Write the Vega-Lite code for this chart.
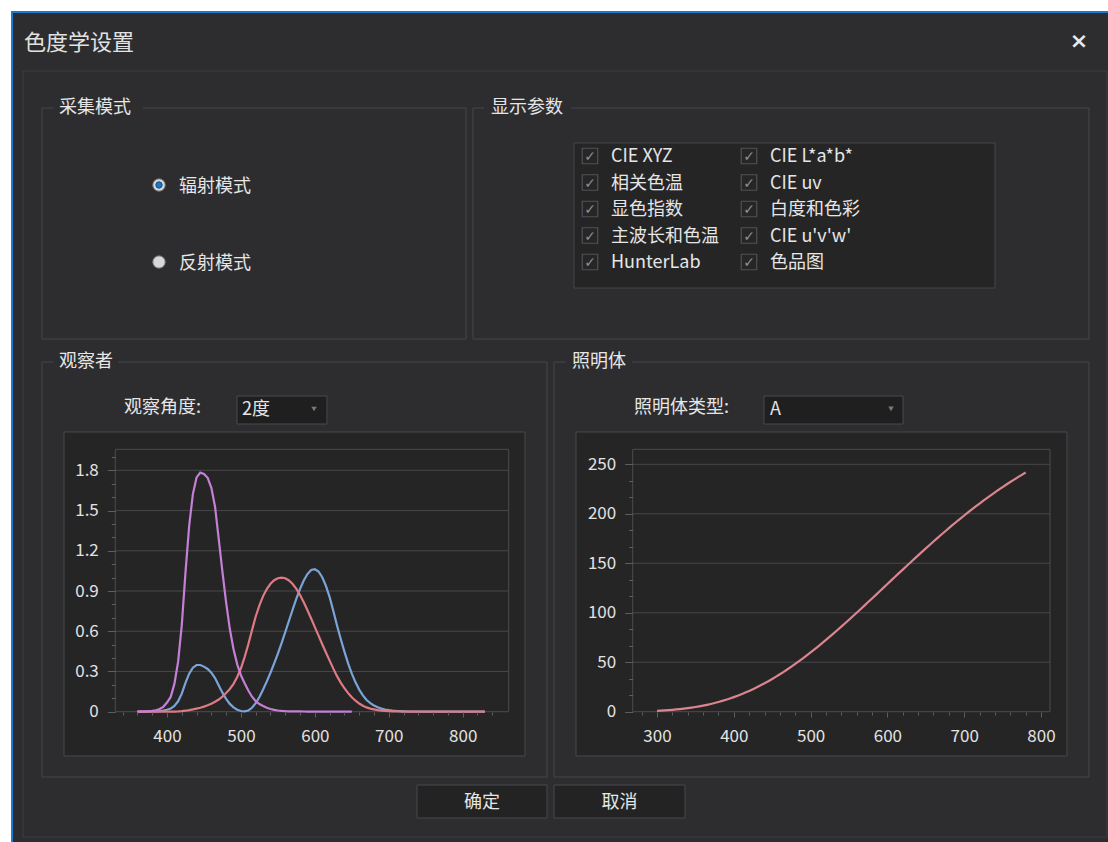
{
  "$schema": "https://vega.github.io/schema/vega-lite/v6.json",
  "background": "#ffffff",
  "padding": {"left": 10, "top": 10, "right": 0, "bottom": 0},
  "config": {
    "font": "Noto Sans CJK SC",
    "view": {"stroke": null},
    "scale": {"zero": false},
    "axis": {"labelFont": "Noto Sans CJK SC", "labelFontSize": 17, "labelColor": "#e2e2e2", "tickColor": "#5e5e5e", "domain": false, "grid": false, "title": null, "labelOverlap": false, "labelBound": false, "labelFlush": false},
    "text": {"font": "Noto Sans CJK SC", "fontSize": 18, "color": "#e6e6e6"}
  },
  "spacing": 8,
  "bounds": "flush",
  "vconcat": [
    {
      "width": 1047, "height": 89,
      "data": {"values": [{"title": "色度学设置", "close": "×"}]},
      "layer": [
        {"mark": {"type": "rect", "fill": "#2d2d30"},
         "encoding": {
           "x": {"datum": -31, "type": "quantitative", "scale": {"domain": [0, 1047], "nice": false}, "axis": null},
           "x2": {"datum": 1067},
           "y": {"datum": 0, "type": "quantitative", "scale": {"domain": [0, 89], "reverse": true, "nice": false}, "axis": null},
           "y2": {"datum": 832}}},
        {"mark": {"type": "rule", "color": "#1a7bd1", "strokeWidth": 2},
         "encoding": {"x": {"datum": -31, "type": "quantitative", "axis": null}, "x2": {"datum": 1067}, "y": {"datum": 1, "type": "quantitative", "axis": null}}},
        {"mark": {"type": "rule", "color": "#1a7bd1", "strokeWidth": 2},
         "encoding": {"x": {"datum": -30, "type": "quantitative", "axis": null}, "y": {"datum": 0, "type": "quantitative", "axis": null}, "y2": {"datum": 832}}},
        {"mark": {"type": "rect", "filled": false, "stroke": "#3e3e43", "strokeWidth": 1},
         "encoding": {"x": {"datum": -19, "type": "quantitative", "axis": null}, "x2": {"datum": 1065}, "y": {"datum": 60, "type": "quantitative", "axis": null}, "y2": {"datum": 826}}},
        {"mark": {"type": "text", "align": "left", "baseline": "middle", "fontSize": 22, "color": "#e2e2e2"},
         "encoding": {"text": {"field": "title"}, "x": {"datum": -18, "type": "quantitative", "axis": null}, "y": {"datum": 32, "type": "quantitative", "axis": null}}},
        {"mark": {"type": "text", "align": "center", "baseline": "middle", "fontSize": 22, "fontWeight": "bold", "font": "DejaVu Sans", "color": "#e8e8e8"},
         "encoding": {"text": {"field": "close"}, "x": {"datum": 1037, "type": "quantitative", "axis": null}, "y": {"datum": 30, "type": "quantitative", "axis": null}}}
      ]
    },
    {
      "width": 1047, "height": 231,
      "resolve": {"scale": {"x": "independent", "y": "independent"}},
      "layer": [
        {"data": {"values": [{"a": "采集模式", "b": "显示参数"}]},
         "layer": [
           {"mark": {"type": "rect", "filled": false, "stroke": "#46464b", "strokeWidth": 1},
            "encoding": {"x": {"datum": 0, "type": "quantitative", "scale": {"domain": [0, 1047], "nice": false}, "axis": null}, "x2": {"datum": 424},
              "y": {"datum": 0, "type": "quantitative", "scale": {"domain": [0, 231], "reverse": true, "nice": false}, "axis": null}, "y2": {"datum": 231}}},
           {"mark": {"type": "rect", "filled": false, "stroke": "#46464b", "strokeWidth": 1},
            "encoding": {"x": {"datum": 431, "type": "quantitative", "axis": null}, "x2": {"datum": 1047},
              "y": {"datum": 0, "type": "quantitative", "axis": null}, "y2": {"datum": 231}}},
           {"mark": {"type": "rect", "fill": "#2d2d30"},
            "encoding": {"x": {"datum": 12, "type": "quantitative", "axis": null}, "x2": {"datum": 101},
              "y": {"datum": -8, "type": "quantitative", "axis": null}, "y2": {"datum": 8}}},
           {"mark": {"type": "rect", "fill": "#2d2d30"},
            "encoding": {"x": {"datum": 442, "type": "quantitative", "axis": null}, "x2": {"datum": 529},
              "y": {"datum": -8, "type": "quantitative", "axis": null}, "y2": {"datum": 8}}},
           {"mark": {"type": "text", "align": "left", "baseline": "middle"},
            "encoding": {"text": {"field": "a"}, "x": {"datum": 17, "type": "quantitative", "axis": null}, "y": {"datum": 0, "type": "quantitative", "axis": null}}},
           {"mark": {"type": "text", "align": "left", "baseline": "middle"},
            "encoding": {"text": {"field": "b"}, "x": {"datum": 449, "type": "quantitative", "axis": null}, "y": {"datum": 0, "type": "quantitative", "axis": null}}},
           {"mark": {"type": "rect", "fill": "#252526", "stroke": "#45454a", "strokeWidth": 1},
            "encoding": {"x": {"datum": 532, "type": "quantitative", "axis": null}, "x2": {"datum": 953},
              "y": {"datum": 35, "type": "quantitative", "axis": null}, "y2": {"datum": 180}}}
         ]},
        {"data": {"values": [{"label": "辐射模式", "selected": true}, {"label": "反射模式", "selected": false}]},
         "encoding": {
           "x": {"datum": 117, "type": "quantitative", "scale": {"domain": [0, 1047], "nice": false}, "axis": null},
           "y": {"field": "label", "type": "nominal", "scale": {"domain": ["辐射模式", "反射模式"], "padding": 1}, "axis": null}
         },
         "layer": [
           {"mark": {"type": "point", "shape": "circle", "filled": true, "size": 150, "fill": "#d8d8d8", "stroke": "#8c8c8c", "strokeWidth": 1, "opacity": 1}},
           {"transform": [{"filter": "datum.selected"}],
            "mark": {"type": "point", "shape": "circle", "filled": true, "size": 40, "fill": "#1c78c9", "stroke": "#0d4a80", "strokeWidth": 1, "opacity": 1}},
           {"mark": {"type": "text", "align": "left", "baseline": "middle", "dx": 20, "dy": 2},
            "encoding": {"text": {"field": "label"}}}
         ]},
        {"data": {"values": [
           {"col": 1, "row": 1, "label": "CIE XYZ"},
           {"col": 1, "row": 2, "label": "相关色温"},
           {"col": 1, "row": 3, "label": "显色指数"},
           {"col": 1, "row": 4, "label": "主波长和色温"},
           {"col": 1, "row": 5, "label": "HunterLab"},
           {"col": 2, "row": 1, "label": "CIE L*a*b*"},
           {"col": 2, "row": 2, "label": "CIE uv"},
           {"col": 2, "row": 3, "label": "白度和色彩"},
           {"col": 2, "row": 4, "label": "CIE u'v'w'"},
           {"col": 2, "row": 5, "label": "色品图"}
         ]},
         "encoding": {
           "x": {"field": "col", "type": "quantitative", "scale": {"domain": [-2.4465, 4.1384], "nice": false}, "axis": null},
           "y": {"field": "row", "type": "quantitative", "scale": {"domain": [-0.81132, 7.90566], "reverse": true, "nice": false}, "axis": null}
         },
         "layer": [
           {"mark": {"type": "point", "shape": "square", "filled": true, "size": 240, "fill": "#262627", "stroke": "#515155", "strokeWidth": 1.2, "opacity": 1}},
           {"mark": {"type": "text", "text": "✓", "font": "DejaVu Sans", "fontSize": 14, "color": "#8e8e8e", "align": "center", "baseline": "middle", "dy": 1}},
           {"mark": {"type": "text", "align": "left", "baseline": "middle", "dx": 21, "dy": 1},
            "encoding": {"text": {"field": "label"}}}
         ]}
      ]
    },
    {"width": 1047, "height": 7, "data": {"values": []}, "mark": "text"},
    {
      "width": 1047, "height": 415,
      "resolve": {"scale": {"x": "independent", "y": "independent"}, "axis": {"x": "independent", "y": "independent"}},
      "layer": [
        {
          "resolve": {"axis": {"x": "independent", "y": "independent"}},
          "layer": [
            {"data": {"values": [{"t": "观察者", "lab": "观察角度:", "val": "2度"}]},
             "layer": [
               {"mark": {"type": "rect", "filled": false, "stroke": "#46464b", "strokeWidth": 1},
                "encoding": {
                  "x": {"datum": 230.91, "type": "quantitative", "scale": {"domain": [230.91, 1647.21], "nice": false}, "axis": null}, "x2": {"datum": 914.03},
                  "y": {"datum": -0.487, "type": "quantitative", "scale": {"domain": [-0.487, 2.6078], "nice": false}, "axis": null}, "y2": {"datum": 2.6078}}},
               {"mark": {"type": "rect", "fill": "#252526", "stroke": "#48484c", "strokeWidth": 1},
                "encoding": {"x": {"datum": 260.67, "type": "quantitative", "axis": null}, "x2": {"datum": 884.28},
                  "y": {"datum": -0.3303, "type": "quantitative", "axis": null}, "y2": {"datum": 2.0858}}},
               {"mark": {"type": "rect", "fill": "#2d2d30"},
                "encoding": {"x": {"datum": 247.1, "type": "quantitative", "axis": null}, "x2": {"datum": 333.7},
                  "y": {"datum": 2.548, "type": "quantitative", "axis": null}, "y2": {"datum": 2.668}}},
               {"mark": {"type": "text", "align": "left", "baseline": "middle"},
                "encoding": {"text": {"field": "t"}, "x": {"datum": 253.9, "type": "quantitative", "axis": null}, "y": {"datum": 2.6078, "type": "quantitative", "axis": null}}},
               {"mark": {"type": "text", "align": "left", "baseline": "middle"},
                "encoding": {"text": {"field": "lab"}, "x": {"datum": 341.8, "type": "quantitative", "axis": null}, "y": {"datum": 2.2647, "type": "quantitative", "axis": null}}},
               {"mark": {"type": "rect", "fill": "#1f1f20", "stroke": "#4a4a4e", "strokeWidth": 1},
                "encoding": {"x": {"datum": 494.7, "type": "quantitative", "axis": null}, "x2": {"datum": 616.4},
                  "y": {"datum": 2.1454, "type": "quantitative", "axis": null}, "y2": {"datum": 2.3542}}},
               {"mark": {"type": "text", "align": "left", "baseline": "middle"},
                "encoding": {"text": {"field": "val"}, "x": {"datum": 501.5, "type": "quantitative", "axis": null}, "y": {"datum": 2.2498, "type": "quantitative", "axis": null}}},
               {"mark": {"type": "point", "shape": "triangle-down", "filled": true, "size": 30, "color": "#7a7a7a", "opacity": 1},
                "encoding": {"x": {"datum": 598.9, "type": "quantitative", "axis": null}, "y": {"datum": 2.2573, "type": "quantitative", "axis": null}}},
               {"mark": {"type": "rect", "filled": false, "stroke": "#4c4c50", "strokeWidth": 1},
                "encoding": {"x": {"datum": 330.1, "type": "quantitative", "axis": null}, "x2": {"datum": 862.2},
                  "y": {"datum": 0, "type": "quantitative", "axis": null}, "y2": {"datum": 1.9567}}}
             ]},
            {"data": {"values": [{"t": 0.3}, {"t": 0.6}, {"t": 0.9}, {"t": 1.2}, {"t": 1.5}, {"t": 1.8}]},
             "mark": {"type": "rule", "color": "#48484b", "strokeWidth": 1},
             "encoding": {"x": {"datum": 330.1, "type": "quantitative", "axis": null}, "x2": {"datum": 862.2},
               "y": {"field": "t", "type": "quantitative", "axis": null}}},
            {"data": {"values": [
              {"wl": 360, "xbar": 0.00013, "ybar": 0.0000039, "zbar": 0.000606},
              {"wl": 365, "xbar": 0.000232, "ybar": 0.000007, "zbar": 0.001086},
              {"wl": 370, "xbar": 0.000415, "ybar": 0.000012, "zbar": 0.001946},
              {"wl": 375, "xbar": 0.000742, "ybar": 0.000022, "zbar": 0.003486},
              {"wl": 380, "xbar": 0.001368, "ybar": 0.000039, "zbar": 0.00645},
              {"wl": 385, "xbar": 0.002236, "ybar": 0.000064, "zbar": 0.01055},
              {"wl": 390, "xbar": 0.004243, "ybar": 0.00012, "zbar": 0.02005},
              {"wl": 395, "xbar": 0.00765, "ybar": 0.000217, "zbar": 0.03621},
              {"wl": 400, "xbar": 0.01431, "ybar": 0.000396, "zbar": 0.06785},
              {"wl": 405, "xbar": 0.02319, "ybar": 0.00064, "zbar": 0.1102},
              {"wl": 410, "xbar": 0.04351, "ybar": 0.00121, "zbar": 0.2074},
              {"wl": 415, "xbar": 0.07763, "ybar": 0.00218, "zbar": 0.3713},
              {"wl": 420, "xbar": 0.13438, "ybar": 0.004, "zbar": 0.6456},
              {"wl": 425, "xbar": 0.21477, "ybar": 0.0073, "zbar": 1.03905},
              {"wl": 430, "xbar": 0.2839, "ybar": 0.0116, "zbar": 1.3856},
              {"wl": 435, "xbar": 0.3285, "ybar": 0.01684, "zbar": 1.62296},
              {"wl": 440, "xbar": 0.34828, "ybar": 0.023, "zbar": 1.74706},
              {"wl": 445, "xbar": 0.34806, "ybar": 0.0298, "zbar": 1.7826},
              {"wl": 450, "xbar": 0.3362, "ybar": 0.038, "zbar": 1.77211},
              {"wl": 455, "xbar": 0.3187, "ybar": 0.048, "zbar": 1.7441},
              {"wl": 460, "xbar": 0.2908, "ybar": 0.06, "zbar": 1.6692},
              {"wl": 465, "xbar": 0.2511, "ybar": 0.0739, "zbar": 1.5281},
              {"wl": 470, "xbar": 0.19536, "ybar": 0.09098, "zbar": 1.28764},
              {"wl": 475, "xbar": 0.1421, "ybar": 0.1126, "zbar": 1.0419},
              {"wl": 480, "xbar": 0.09564, "ybar": 0.13902, "zbar": 0.81295},
              {"wl": 485, "xbar": 0.05795, "ybar": 0.1693, "zbar": 0.6162},
              {"wl": 490, "xbar": 0.03201, "ybar": 0.20802, "zbar": 0.46518},
              {"wl": 495, "xbar": 0.0147, "ybar": 0.2586, "zbar": 0.3533},
              {"wl": 500, "xbar": 0.0049, "ybar": 0.323, "zbar": 0.272},
              {"wl": 505, "xbar": 0.0024, "ybar": 0.4073, "zbar": 0.2123},
              {"wl": 510, "xbar": 0.0093, "ybar": 0.503, "zbar": 0.1582},
              {"wl": 515, "xbar": 0.0291, "ybar": 0.6082, "zbar": 0.1117},
              {"wl": 520, "xbar": 0.06327, "ybar": 0.71, "zbar": 0.07825},
              {"wl": 525, "xbar": 0.1096, "ybar": 0.7932, "zbar": 0.05725},
              {"wl": 530, "xbar": 0.1655, "ybar": 0.862, "zbar": 0.04216},
              {"wl": 535, "xbar": 0.22575, "ybar": 0.91485, "zbar": 0.02984},
              {"wl": 540, "xbar": 0.2904, "ybar": 0.954, "zbar": 0.0203},
              {"wl": 545, "xbar": 0.3597, "ybar": 0.9803, "zbar": 0.0134},
              {"wl": 550, "xbar": 0.43345, "ybar": 0.99495, "zbar": 0.00875},
              {"wl": 555, "xbar": 0.51205, "ybar": 1.0, "zbar": 0.00575},
              {"wl": 560, "xbar": 0.5945, "ybar": 0.995, "zbar": 0.0039},
              {"wl": 565, "xbar": 0.6784, "ybar": 0.9786, "zbar": 0.00275},
              {"wl": 570, "xbar": 0.7621, "ybar": 0.952, "zbar": 0.0021},
              {"wl": 575, "xbar": 0.8425, "ybar": 0.9154, "zbar": 0.0018},
              {"wl": 580, "xbar": 0.9163, "ybar": 0.87, "zbar": 0.00165},
              {"wl": 585, "xbar": 0.9786, "ybar": 0.8163, "zbar": 0.0014},
              {"wl": 590, "xbar": 1.0263, "ybar": 0.757, "zbar": 0.0011},
              {"wl": 595, "xbar": 1.0567, "ybar": 0.6949, "zbar": 0.001},
              {"wl": 600, "xbar": 1.0622, "ybar": 0.631, "zbar": 0.0008},
              {"wl": 605, "xbar": 1.0456, "ybar": 0.5668, "zbar": 0.0006},
              {"wl": 610, "xbar": 1.0026, "ybar": 0.503, "zbar": 0.00034},
              {"wl": 615, "xbar": 0.9384, "ybar": 0.4412, "zbar": 0.00024},
              {"wl": 620, "xbar": 0.85445, "ybar": 0.381, "zbar": 0.00019},
              {"wl": 625, "xbar": 0.7514, "ybar": 0.321, "zbar": 0.0001},
              {"wl": 630, "xbar": 0.6424, "ybar": 0.265, "zbar": 0.00005},
              {"wl": 635, "xbar": 0.5419, "ybar": 0.217, "zbar": 0.00003},
              {"wl": 640, "xbar": 0.4479, "ybar": 0.175, "zbar": 0.00002},
              {"wl": 645, "xbar": 0.3608, "ybar": 0.1382, "zbar": 0.00001},
              {"wl": 650, "xbar": 0.2835, "ybar": 0.107, "zbar": 0},
              {"wl": 655, "xbar": 0.2187, "ybar": 0.0816},
              {"wl": 660, "xbar": 0.1649, "ybar": 0.061},
              {"wl": 665, "xbar": 0.1212, "ybar": 0.04458},
              {"wl": 670, "xbar": 0.0874, "ybar": 0.032},
              {"wl": 675, "xbar": 0.0636, "ybar": 0.0232},
              {"wl": 680, "xbar": 0.04677, "ybar": 0.017},
              {"wl": 685, "xbar": 0.0329, "ybar": 0.01192},
              {"wl": 690, "xbar": 0.0227, "ybar": 0.00821},
              {"wl": 695, "xbar": 0.01584, "ybar": 0.005723},
              {"wl": 700, "xbar": 0.011359, "ybar": 0.004102},
              {"wl": 705, "xbar": 0.008111, "ybar": 0.002929},
              {"wl": 710, "xbar": 0.00579, "ybar": 0.002091},
              {"wl": 715, "xbar": 0.004109, "ybar": 0.001484},
              {"wl": 720, "xbar": 0.002899, "ybar": 0.001047},
              {"wl": 730, "xbar": 0.00144, "ybar": 0.00052},
              {"wl": 740, "xbar": 0.00069, "ybar": 0.000249},
              {"wl": 750, "xbar": 0.000332, "ybar": 0.00012},
              {"wl": 760, "xbar": 0.000166, "ybar": 0.00006},
              {"wl": 770, "xbar": 0.000083, "ybar": 0.00003},
              {"wl": 780, "xbar": 0.000042, "ybar": 0.000015},
              {"wl": 790, "xbar": 0.000021, "ybar": 0.0000075},
              {"wl": 800, "xbar": 0.00001, "ybar": 0.0000037},
              {"wl": 810, "xbar": 0.000005, "ybar": 0.0000019},
              {"wl": 820, "xbar": 0.000003, "ybar": 0.0000009},
              {"wl": 830, "xbar": 0.000001, "ybar": 0.0000005}
             ]},
             "transform": [{"fold": ["xbar", "ybar", "zbar"], "as": ["fn", "v"]}],
             "mark": {"type": "line", "strokeWidth": 2.2},
             "encoding": {
               "x": {"field": "wl", "type": "quantitative", "scale": {"domain": [230.91, 1647.21], "nice": false},
                 "axis": {"orient": "bottom", "zindex": 1, "values": [340, 360, 380, 400, 420, 440, 460, 480, 500, 520, 540, 560, 580, 600, 620, 640, 660, 680, 700, 720, 740, 760, 780, 800, 820, 840],
                   "offset": -65, "labelPadding": 11,
                   "tickSize": {"condition": {"test": "datum.value % 100 === 0", "value": 5}, "value": 3},
                   "labelExpr": "datum.value % 100 === 0 ? datum.label : ''"}},
               "y": {"field": "v", "type": "quantitative", "scale": {"domain": [-0.487, 2.6078], "nice": false},
                 "axis": {"orient": "left", "zindex": 1, "values": [0, 0.1, 0.2, 0.3, 0.4, 0.5, 0.6, 0.7, 0.8, 0.9, 1.0, 1.1, 1.2, 1.3, 1.4, 1.5, 1.6, 1.7, 1.8, 1.9],
                   "offset": -73.3, "labelPadding": 9,
                   "tickSize": {"condition": {"test": "round(datum.value*10) % 3 === 0", "value": 8}, "value": 4},
                   "labelExpr": "round(datum.value*10) % 3 === 0 ? format(datum.value, '.1~f') : ''"}},
               "color": {"field": "fn", "type": "nominal", "scale": {"domain": ["xbar", "ybar", "zbar"], "range": ["#7ba4d8", "#de7a84", "#c57fd6"]}, "legend": null}
             }}
          ]
        },
        {
          "resolve": {"axis": {"x": "independent", "y": "independent"}},
          "layer": [
            {"data": {"values": [{"t": "照明体", "lab": "照明体类型:", "val": "A"}]},
             "layer": [
               {"mark": {"type": "rect", "filled": false, "stroke": "#46464b", "strokeWidth": 1},
                "encoding": {
                  "x": {"datum": 165.89, "type": "quantitative", "scale": {"domain": [-500.78, 862.5], "nice": false}, "axis": null}, "x2": {"datum": 862.5},
                  "y": {"datum": -65.99, "type": "quantitative", "scale": {"domain": [-65.99, 353.38], "nice": false}, "axis": null}, "y2": {"datum": 353.38}}},
               {"mark": {"type": "rect", "fill": "#252526", "stroke": "#48484c", "strokeWidth": 1},
                "encoding": {"x": {"datum": 194.53, "type": "quantitative", "axis": null}, "x2": {"datum": 833.85},
                  "y": {"datum": -44.77, "type": "quantitative", "axis": null}, "y2": {"datum": 282.64}}},
               {"mark": {"type": "rect", "fill": "#2d2d30"},
                "encoding": {"x": {"datum": 181.5, "type": "quantitative", "axis": null}, "x2": {"datum": 267.4},
                  "y": {"datum": 345.3, "type": "quantitative", "axis": null}, "y2": {"datum": 361.46}}},
               {"mark": {"type": "text", "align": "left", "baseline": "middle"},
                "encoding": {"text": {"field": "t"}, "x": {"datum": 189.32, "type": "quantitative", "axis": null}, "y": {"datum": 353.38, "type": "quantitative", "axis": null}}},
               {"mark": {"type": "text", "align": "left", "baseline": "middle"},
                "encoding": {"text": {"field": "lab"}, "x": {"datum": 270.05, "type": "quantitative", "axis": null}, "y": {"datum": 306.9, "type": "quantitative", "axis": null}}},
               {"mark": {"type": "rect", "fill": "#1f1f20", "stroke": "#4a4a4e", "strokeWidth": 1},
                "encoding": {"x": {"datum": 439.3, "type": "quantitative", "axis": null}, "x2": {"datum": 620.3},
                  "y": {"datum": 290.7, "type": "quantitative", "axis": null}, "y2": {"datum": 319.0}}},
               {"mark": {"type": "text", "align": "left", "baseline": "middle"},
                "encoding": {"text": {"field": "val"}, "x": {"datum": 447.1, "type": "quantitative", "axis": null}, "y": {"datum": 304.9, "type": "quantitative", "axis": null}}},
               {"mark": {"type": "point", "shape": "triangle-down", "filled": true, "size": 30, "color": "#7a7a7a", "opacity": 1},
                "encoding": {"x": {"datum": 604.7, "type": "quantitative", "axis": null}, "y": {"datum": 305.9, "type": "quantitative", "axis": null}}},
               {"mark": {"type": "rect", "filled": false, "stroke": "#4c4c50", "strokeWidth": 1},
                "encoding": {"x": {"datum": 268.36, "type": "quantitative", "axis": null}, "x2": {"datum": 811.72},
                  "y": {"datum": 0, "type": "quantitative", "axis": null}, "y2": {"datum": 265.16}}}
             ]},
            {"data": {"values": [{"t": 50}, {"t": 100}, {"t": 150}, {"t": 200}, {"t": 250}]},
             "mark": {"type": "rule", "color": "#48484b", "strokeWidth": 1},
             "encoding": {"x": {"datum": 268.36, "type": "quantitative", "axis": null}, "x2": {"datum": 811.72},
               "y": {"field": "t", "type": "quantitative", "axis": null}}},
            {"data": {"values": [
              {"wl": 300, "s": 0.930483}, {"wl": 305, "s": 1.12821}, {"wl": 310, "s": 1.35769}, {"wl": 315, "s": 1.62219},
              {"wl": 320, "s": 1.92508}, {"wl": 325, "s": 2.2698}, {"wl": 330, "s": 2.65981}, {"wl": 335, "s": 3.09861},
              {"wl": 340, "s": 3.58968}, {"wl": 345, "s": 4.13648}, {"wl": 350, "s": 4.74238}, {"wl": 355, "s": 5.4107},
              {"wl": 360, "s": 6.14462}, {"wl": 365, "s": 6.9472}, {"wl": 370, "s": 7.82135}, {"wl": 375, "s": 8.7698},
              {"wl": 380, "s": 9.7951}, {"wl": 385, "s": 10.8996}, {"wl": 390, "s": 12.0853}, {"wl": 395, "s": 13.3543},
              {"wl": 400, "s": 14.708}, {"wl": 405, "s": 16.148}, {"wl": 410, "s": 17.6753}, {"wl": 415, "s": 19.2907},
              {"wl": 420, "s": 20.995}, {"wl": 425, "s": 22.7883}, {"wl": 430, "s": 24.6709}, {"wl": 435, "s": 26.6425},
              {"wl": 440, "s": 28.7027}, {"wl": 445, "s": 30.8508}, {"wl": 450, "s": 33.0859}, {"wl": 455, "s": 35.4068},
              {"wl": 460, "s": 37.8121}, {"wl": 465, "s": 40.3002}, {"wl": 470, "s": 42.8693}, {"wl": 475, "s": 45.5174},
              {"wl": 480, "s": 48.2423}, {"wl": 485, "s": 51.0418}, {"wl": 490, "s": 53.9132}, {"wl": 495, "s": 56.8539},
              {"wl": 500, "s": 59.8611}, {"wl": 505, "s": 62.932}, {"wl": 510, "s": 66.0635}, {"wl": 515, "s": 69.2525},
              {"wl": 520, "s": 72.4959}, {"wl": 525, "s": 75.7903}, {"wl": 530, "s": 79.1326}, {"wl": 535, "s": 82.5193},
              {"wl": 540, "s": 85.947}, {"wl": 545, "s": 89.4124}, {"wl": 550, "s": 92.912}, {"wl": 555, "s": 96.4423},
              {"wl": 560, "s": 100.0}, {"wl": 565, "s": 103.582}, {"wl": 570, "s": 107.184}, {"wl": 575, "s": 110.803},
              {"wl": 580, "s": 114.436}, {"wl": 585, "s": 118.08}, {"wl": 590, "s": 121.731}, {"wl": 595, "s": 125.386},
              {"wl": 600, "s": 129.043}, {"wl": 605, "s": 132.697}, {"wl": 610, "s": 136.346}, {"wl": 615, "s": 139.988},
              {"wl": 620, "s": 143.618}, {"wl": 625, "s": 147.235}, {"wl": 630, "s": 150.836}, {"wl": 635, "s": 154.418},
              {"wl": 640, "s": 157.979}, {"wl": 645, "s": 161.516}, {"wl": 650, "s": 165.028}, {"wl": 655, "s": 168.51},
              {"wl": 660, "s": 171.963}, {"wl": 665, "s": 175.383}, {"wl": 670, "s": 178.769}, {"wl": 675, "s": 182.118},
              {"wl": 680, "s": 185.429}, {"wl": 685, "s": 188.701}, {"wl": 690, "s": 191.931}, {"wl": 695, "s": 195.118},
              {"wl": 700, "s": 198.261}, {"wl": 705, "s": 201.359}, {"wl": 710, "s": 204.409}, {"wl": 715, "s": 207.411},
              {"wl": 720, "s": 210.365}, {"wl": 725, "s": 213.268}, {"wl": 730, "s": 216.12}, {"wl": 735, "s": 218.92},
              {"wl": 740, "s": 221.667}, {"wl": 745, "s": 224.361}, {"wl": 750, "s": 227.0}, {"wl": 755, "s": 229.585},
              {"wl": 760, "s": 232.115}, {"wl": 765, "s": 234.589}, {"wl": 770, "s": 237.008}, {"wl": 775, "s": 239.37},
              {"wl": 780, "s": 241.675}
             ]},
             "mark": {"type": "line", "strokeWidth": 2.2, "color": "#dc8590"},
             "encoding": {
               "x": {"field": "wl", "type": "quantitative", "scale": {"domain": [-500.78, 862.5], "nice": false},
                 "axis": {"orient": "bottom", "zindex": 1, "values": [280, 300, 320, 340, 360, 380, 400, 420, 440, 460, 480, 500, 520, 540, 560, 580, 600, 620, 640, 660, 680, 700, 720, 740, 760, 780, 800],
                   "offset": -65, "labelPadding": 11,
                   "tickSize": {"condition": {"test": "datum.value % 100 === 0", "value": 5}, "value": 3},
                   "labelExpr": "datum.value % 100 === 0 ? datum.label : ''"}},
               "y": {"field": "s", "type": "quantitative", "scale": {"domain": [-65.99, 353.38], "nice": false},
                 "axis": {"orient": "left", "zindex": 1, "values": [0, 16.667, 33.333, 50, 66.667, 83.333, 100, 116.667, 133.333, 150, 166.667, 183.333, 200, 216.667, 233.333, 250],
                   "offset": -590.7, "labelPadding": 9,
                   "tickSize": {"condition": {"test": "round(datum.value) % 50 === 0", "value": 8}, "value": 4},
                   "labelExpr": "round(datum.value) % 50 === 0 ? format(datum.value, 'd') : ''"}}
             }}
          ]
        }
      ]
    },
    {
      "width": 1047, "height": 33,
      "data": {"values": [{"ok": "确定", "cancel": "取消"}]},
      "layer": [
        {"mark": {"type": "rect", "fill": "#232324", "stroke": "#48484c", "strokeWidth": 1},
         "encoding": {"x": {"datum": 375, "type": "quantitative", "scale": {"domain": [0, 1047], "nice": false}, "axis": null}, "x2": {"datum": 505},
           "y": {"datum": 0, "type": "quantitative", "scale": {"domain": [0, 33], "nice": false}, "axis": null}, "y2": {"datum": 33}}},
        {"mark": {"type": "rect", "fill": "#232324", "stroke": "#48484c", "strokeWidth": 1},
         "encoding": {"x": {"datum": 512, "type": "quantitative", "axis": null}, "x2": {"datum": 643},
           "y": {"datum": 0, "type": "quantitative", "axis": null}, "y2": {"datum": 33}}},
        {"mark": {"type": "text", "align": "center", "baseline": "middle", "dy": 1},
         "encoding": {"text": {"field": "ok"}, "x": {"datum": 440, "type": "quantitative", "axis": null}, "y": {"datum": 16.5, "type": "quantitative", "axis": null}}},
        {"mark": {"type": "text", "align": "center", "baseline": "middle", "dy": 1},
         "encoding": {"text": {"field": "cancel"}, "x": {"datum": 577.5, "type": "quantitative", "axis": null}, "y": {"datum": 16.5, "type": "quantitative", "axis": null}}}
      ]
    }
  ]
}
